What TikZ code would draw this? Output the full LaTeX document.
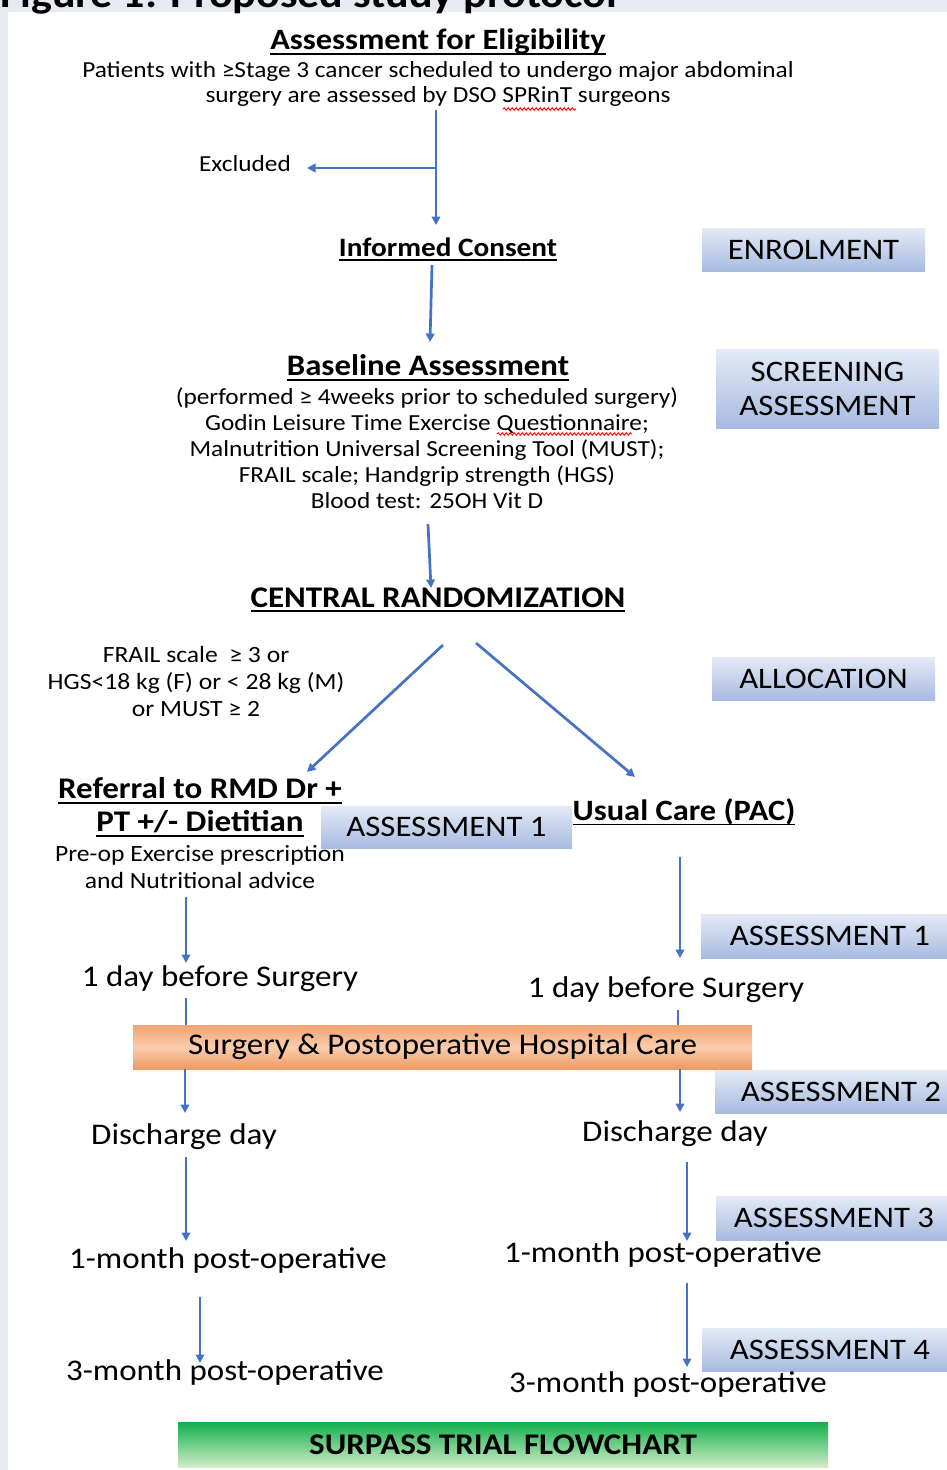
\documentclass[tikz,border=0pt]{standalone}
\usepackage{fontspec}
\setmainfont{Carlito}[FakeStretch=1.1]
\usetikzlibrary{arrows.meta,decorations.pathmorphing}
\definecolor{arrowblue}{HTML}{4472C4}
\definecolor{bgpanel}{HTML}{E8EAF2}
\definecolor{phtop}{HTML}{E4EAF6}
\definecolor{phbot}{HTML}{A7BBE0}
\definecolor{ortop}{HTML}{F2A36E}
\definecolor{ormid}{HTML}{F9CDAE}
\definecolor{orbot}{HTML}{EE9A62}
\definecolor{grtop}{HTML}{10B04E}
\definecolor{grbot}{HTML}{D2EBC6}
\newcommand\ulx[1]{\setbox0\hbox{#1}\leavevmode\rlap{\rule[-0.17em]{\wd0}{0.065em}}\box0}
\tikzset{
  body/.style={font=\fontsize{23}{26}\selectfont, align=center, inner sep=0pt},
  big/.style={font=\fontsize{30}{33}\selectfont, inner sep=0pt},
  head/.style={font=\fontsize{29.5}{33}\selectfont\bfseries, inner sep=0pt},
  phase/.style={top color=phtop, bottom color=phbot, draw=none,
    font=\fontsize{29.8}{34}\selectfont, inner sep=0pt, align=center},
  arr/.style={draw=arrowblue, line width=2.7pt, -{Triangle[length=8.5pt,width=8.5pt]}},
  ln/.style={draw=arrowblue, line width=2.7pt},
  squig/.style={draw=red, line width=0.9pt, decorate,
    decoration={snake, amplitude=1.3pt, segment length=4pt}}
}
\begin{document}
\begin{tikzpicture}[x=1pt,y=-1pt]
\useasboundingbox (0,0) rectangle (947,1470);
\clip (0,0) rectangle (947,1470);
\fill[bgpanel] (0,0) rectangle (947,1470);
\fill[white] (8,12) rectangle (947,1470);
\node[anchor=base west, inner sep=0pt, font=\fontsize{40}{40}\selectfont\bfseries] (fig) at (0,7) {Figure 1: Proposed study protocol};

% phase boxes
\node[phase, minimum width=223, minimum height=43] (enrol) at (813.5,249.5) {ENROLMENT};
\node[phase, minimum width=223, minimum height=79] (screen) at (827.5,388.5) {SCREENING\\ASSESSMENT};
\node[phase, minimum width=223, minimum height=43] (alloc) at (823.5,678.5) {ALLOCATION};
\node[phase, minimum width=251, minimum height=42] (asmA) at (446.5,827) {ASSESSMENT 1};
\node[phase, minimum width=258, minimum height=44] (asmB) at (830,936) {ASSESSMENT 1};
\node[phase, minimum width=252, minimum height=43] (asm2) at (841,1091.5) {ASSESSMENT 2};
\node[phase, minimum width=236, minimum height=44] (asm3) at (834,1218) {ASSESSMENT 3};
\node[phase, minimum width=256, minimum height=43] (asm4) at (830,1349.5) {ASSESSMENT 4};

% text nodes
\node[head] (elig) at (438,42) {\ulx{Assessment for Eligibility}};
\node[body, font=\fontsize{23}{25}\selectfont] (pat) at (438,84) {Patients with ≥Stage 3 cancer scheduled to undergo major abdominal\\surgery are assessed by DSO SPRinT surgeons};
\draw[squig] (503,109) -- (576,109);
\node[body] (excl) at (245,164) {Excluded};
\node[head, font=\fontsize{26.6}{30}\selectfont\bfseries] (consent) at (448,249) {\ulx{Informed Consent}};
\node[head, font=\fontsize{29.8}{33}\selectfont\bfseries] (base) at (428,368) {\ulx{Baseline Assessment}};
\node[body] (basetxt) at (427,448.5) {(performed ≥ 4weeks prior to scheduled surgery)\\Godin Leisure Time Exercise Questionnaire;\\Malnutrition Universal Screening Tool (MUST);\\FRAIL scale; Handgrip strength (HGS)\\Blood test: 25OH Vit D};
\draw[squig] (497,434) -- (632,434);
\node[head, font=\fontsize{30}{33}\selectfont\bfseries] (rand) at (438,600) {\ulx{CENTRAL RANDOMIZATION}};
\node[body, font=\fontsize{23.3}{27}\selectfont] (crit) at (196,681) {FRAIL scale~ ≥ 3 or\\HGS<18 kg (F) or < 28 kg (M)\\or MUST ≥ 2};
\node[head, font=\fontsize{30}{33}\selectfont\bfseries, align=center] (refer) at (200,807.5) {\ulx{Referral to RMD Dr +}\\\ulx{PT +/- Dietitian}};
\node[body, font=\fontsize{23.3}{27}\selectfont] (preop) at (200,867) {Pre-op Exercise prescription\\and Nutritional advice};
\node[head] (usual) at (684,812) {\ulx{Usual Care (PAC)}};

\node[big] (d1L) at (220,978.5) {1 day before Surgery};
\node[big] (d1R) at (666,989.5) {1 day before Surgery};
\node[big] (disL) at (184,1136.5) {Discharge day};
\node[big] (disR) at (675,1133.5) {Discharge day};
\node[big] (m1L) at (228,1260) {1-month post-operative};
\node[big] (m1R) at (663,1254) {1-month post-operative};
\node[big] (m3L) at (225,1372) {3-month post-operative};
\node[big] (m3R) at (668,1384) {3-month post-operative};

% connectors (drawn before the orange box so it covers lines)
\coordinate (a0) at (436,110);
\coordinate (a1) at (436,225);
\coordinate (ex) at (436,168);
\coordinate (exE) at (307,168);
\draw[ln] (a0) -- (ex);
\draw[arr] (ex) -- (a1);
\draw[arr] (ex) -- (exE);
\coordinate (b0) at (432,265);
\coordinate (b1) at (430,342);
\draw[arr] (b0) -- (b1);
\coordinate (c0) at (428,524);
\coordinate (c1) at (431,588);
\draw[arr] (c0) -- (c1);
\coordinate (r0) at (443,645);
\coordinate (r1) at (307,772);
\coordinate (u0) at (476,643);
\coordinate (u1) at (635,777);
\draw[arr] (r0) -- (r1);
\draw[arr] (u0) -- (u1);
\coordinate (L0) at (186,897);
\coordinate (L1) at (186,963);
\draw[arr] (L0) -- (L1);
\coordinate (R0) at (680,857);
\coordinate (R1) at (680,958);
\draw[arr] (R0) -- (R1);
\coordinate (L2) at (186,998);
\coordinate (R2) at (678,1010);

\node[top color=ortop, bottom color=orbot, middle color=ormid, minimum width=619, minimum height=44,
  inner sep=0pt, font=\fontsize{30}{33}\selectfont] (surg) at (442.5,1047) {Surgery \& Postoperative Hospital Care};
\draw[ln] (L2) -- (L2 |- surg.north);
\draw[ln] (R2) -- (R2 |- surg.north);
\coordinate (L3) at (185,1113);
\coordinate (R3) at (680,1112);
\draw[arr] (surg.south -| L3) -- (L3);
\draw[arr] (surg.south -| R3) -- (R3);
\coordinate (L4) at (186,1157);
\coordinate (L5) at (186,1241);
\coordinate (R4) at (687,1162);
\coordinate (R5) at (687,1241);
\draw[arr] (L4) -- (L5);
\draw[arr] (R4) -- (R5);
\coordinate (L6) at (200,1297);
\coordinate (L7) at (200,1363);
\coordinate (R6) at (687,1283);
\coordinate (R7) at (687,1367);
\draw[arr] (L6) -- (L7);
\draw[arr] (R6) -- (R7);

\node[top color=grtop, bottom color=grbot, minimum width=650, minimum height=45, inner sep=0pt,
  font=\fontsize{30}{33}\selectfont\bfseries] (title) at (503,1444.5) {SURPASS TRIAL FLOWCHART};
\end{tikzpicture}
\end{document}
